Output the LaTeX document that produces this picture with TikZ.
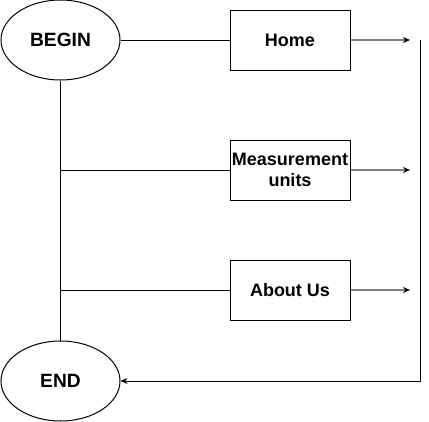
\documentclass[tikz,border=0pt]{standalone}
\usepackage{fontspec}
\setmainfont{Liberation Sans}
\usetikzlibrary{shapes.geometric,arrows.meta}
\begin{document}
\begin{tikzpicture}[x=1pt,y=-1pt,
  oval/.style={draw,ellipse,line width=1pt,minimum width=119pt,minimum height=80pt,inner sep=0pt,font=\fontsize{19.2}{21}\selectfont\bfseries},
  box/.style={draw,rectangle,line width=1pt,minimum width=120pt,minimum height=60pt,inner sep=0pt,align=center,font=\fontsize{18}{21}\selectfont\bfseries},
  conn/.style={line width=1pt},
  garrow/.style={line width=1.3pt,draw={rgb,255:red,128;green,128;blue,128},-{Stealth[length=7pt,width=6pt,black]}},
  barrow/.style={line width=1pt,-{Stealth[length=7pt,width=6pt]}}]
\useasboundingbox (0,0) rectangle (429,421);
\node[oval] (begin) at (60.5,40) {BEGIN};
\node[oval] (endn) at (60.5,381) {END};
\node[box] (home) at (290,40) {Home};
\node[box] (mu) at (290,170) {Measurement\\units};
\node[box] (about) at (290,290) {About Us};
\coordinate (a1) at (410,40);
\coordinate (a2) at (410,170);
\coordinate (a3) at (410,290);
\coordinate (r1) at (420,40);
\coordinate (r2) at (420,381);
\coordinate (j1) at (60.5,170);
\coordinate (j2) at (60.5,290);
\draw[conn] (begin.east) -- (home.west);
\draw[conn] (begin.south) -- (endn.north);
\draw[conn] (j1) -- (mu.west);
\draw[conn] (j2) -- (about.west);
\draw[garrow] (home.east) -- (a1);
\draw[garrow] (mu.east) -- (a2);
\draw[garrow] (about.east) -- (a3);
\draw[barrow] (r1) -- (r2) -- (endn.east);
\end{tikzpicture}
\end{document}
